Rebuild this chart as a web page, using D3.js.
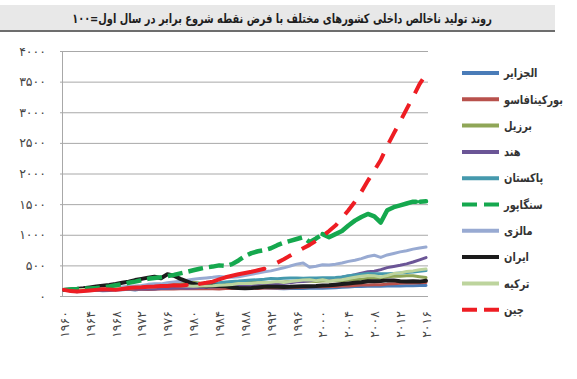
<!DOCTYPE html>
<html><head><meta charset="utf-8">
<script src="https://cdn.jsdelivr.net/npm/d3@7"></script>
<style>
body{margin:0;background:#fff;}
svg{display:block;font-family:"DejaVu Sans",sans-serif;}
</style></head>
<body><svg id="c" width="577" height="379"></svg>
<script>
const title = "روند تولید ناخالص داخلی کشورهای مختلف با فرض نقطه شروع برابر در سال اول=۱۰۰";
const years = [1960,1961,1962,1963,1964,1965,1966,1967,1968,1969,1970,1971,1972,1973,1974,1975,1976,1977,1978,1979,
1980,1981,1982,1983,1984,1985,1986,1987,1988,1989,1990,1991,1992,1993,1994,1995,1996,1997,1998,1999,
2000,2001,2002,2003,2004,2005,2006,2007,2008,2009,2010,2011,2012,2013,2014,2015,2016];
const xTicks = [1960,1964,1968,1972,1976,1980,1984,1988,1992,1996,2000,2004,2008,2012,2016];
const yTicks = [0,500,1000,1500,2000,2500,3000,3500,4000];
const seriesNames = ["الجزایر","بورکینافاسو","برزیل","هند","پاکستان","سنگاپور","مالزی","ایران","ترکیه","چین"];

const algeria = [100,88,70,85,88,92,85,90,98,104,112,98,115,116,120,124,128,131,139,143,
140,138,144,147,150,151,147,141,136,137,133,129,128,123,120,121,123,122,126,127,
128,130,135,143,147,154,155,158,159,160,162,163,165,166,168,170,172];
const burkina = [100,101,104,105,105,107,107,108,108,109,110,109,109,106,112,117,116,113,117,118,
118,121,120,117,113,121,128,124,128,128,124,132,130,130,130,133,139,141,149,153,
149,155,157,165,165,173,178,179,183,183,194,200,208,212,214,216,222];
const brazil = [100,105,108,105,105,104,107,108,115,122,130,140,153,171,178,182,196,199,204,212,
226,212,210,198,204,216,228,230,226,229,217,215,211,219,229,236,237,242,239,237,
245,245,248,248,260,265,273,286,298,294,314,322,324,331,330,315,302];
const india = [100,101,102,105,111,106,104,111,111,117,120,120,116,117,115,123,123,130,135,126,
132,137,139,147,149,154,158,161,173,180,186,183,189,196,205,218,233,238,250,268,
275,284,290,308,325,347,372,398,405,430,463,481,501,525,555,590,627];
const pakistan = [100,103,107,114,119,124,125,129,134,140,152,149,150,157,160,162,166,167,177,180,
190,199,208,214,216,228,236,244,255,260,265,272,286,283,288,295,294,289,292,295,
298,299,302,312,330,344,357,366,363,365,364,369,376,385,393,402,415];
const singapore = [100,107,114,125,122,130,142,157,175,195,215,235,258,280,295,305,325,345,370,395,
420,445,465,480,500,490,520,580,650,700,730,750,780,830,870,900,930,960,880,940,
1010,960,1010,1060,1150,1230,1290,1340,1300,1200,1400,1450,1480,1510,1540,1540,1545];
const malaysia = [100,105,110,115,120,128,133,135,142,148,155,163,172,190,200,198,215,228,240,258,
272,285,295,305,320,310,305,315,335,355,375,395,410,435,460,490,520,540,470,485,
510,505,520,540,565,585,610,645,665,630,670,695,720,740,765,785,800];
const iran = [100,108,115,125,140,155,168,180,195,215,235,260,280,300,315,290,355,330,280,240,
200,170,160,170,165,160,140,130,125,130,140,150,150,150,148,150,155,158,160,162,
170,175,185,195,205,215,225,240,240,245,255,255,240,235,240,235,250];
const turkey = [100,98,101,107,108,108,117,119,123,125,127,138,146,146,149,158,170,171,169,164,
158,162,165,168,175,179,189,204,205,203,218,216,225,238,222,235,248,263,264,251,
264,245,256,266,287,306,323,334,331,311,334,366,376,400,410,430,440];
const china = [100,80,75,82,90,100,110,105,100,115,130,138,142,152,155,165,162,175,170,180,
190,198,215,235,270,305,330,355,375,395,420,445,490,545,600,660,720,780,835,900,
980,1060,1150,1270,1400,1540,1700,1880,2050,2220,2450,2650,2850,3050,3250,3460,3620];

const seriesValues = [algeria,burkina,brazil,india,pakistan,singapore,malaysia,iran,turkey,china];
const colors = ["#4a7cb8","#b8514c","#8fa657","#6b5596","#4599ad","#15a84e","#98aad2","#1b1b1b","#bdd49d","#ee1d23"];
const widths = [3,3,3,3,3,4.5,3,4,3,4];
const dashed = [false,false,false,false,false,true,false,false,false,true];

const svg = d3.select("#c");
const faDigits = s => String(s).replace(/[0-9]/g, d => "۰۱۲۳۴۵۶۷۸۹"[+d]);

// title bar
svg.append("rect").attr("x",0).attr("y",5).attr("width",555).attr("height",25).attr("fill","#e8e8e8");
svg.append("line").attr("x1",0).attr("x2",555).attr("y1",31).attr("y2",31).attr("stroke","#3c3c3c").attr("stroke-width",1.5);
const tt = svg.append("text").attr("text-anchor","middle")
  .attr("font-size",13).attr("font-weight","bold").attr("fill","#1e1e1e").text(title);
const tw = tt.node().getComputedTextLength();
tt.attr("transform",`translate(282,23) scale(${420/tw},1)`);

const x = d3.scaleLinear().domain([1960,2016]).range([64,426]);
const y = d3.scaleLinear().domain([0,4000]).range([296,51]);
const left = 62, right = 428;

const yAxis = svg.append("g").attr("transform",`translate(${left},0)`)
  .call(d3.axisLeft(y).tickValues(yTicks).tickSizeInner(-(right-left)).tickSizeOuter(0).tickPadding(16).tickFormat(faDigits));
yAxis.select(".domain").attr("stroke","#a8a8a8");
yAxis.selectAll(".tick line").attr("stroke","#a8a8a8").attr("x1",-2);
yAxis.selectAll(".tick text").attr("font-size",12.5).attr("fill","#444").attr("font-family","DejaVu Sans");

const xAxis = svg.append("g").attr("transform","translate(0,296)")
  .call(d3.axisBottom(x).tickValues(xTicks).tickSize(0).tickFormat(faDigits));
xAxis.select(".domain").remove();
xAxis.selectAll(".tick text")
  .attr("font-size",12.5).attr("fill","#444").attr("font-family","DejaVu Sans")
  .attr("text-anchor","end").attr("transform","rotate(-90)")
  .attr("x",-15).attr("y",0).attr("dy","0.35em");

const line = d3.line().x(d => x(d[0])).y(d => y(d[1]));
const pts = vals => years.map((yr,i) => [yr, vals[i]]);
const range = (vals, a, b) => pts(vals).filter(d => d[0] >= a && d[0] <= b);

const plot = svg.append("g").attr("fill","none").attr("stroke-linejoin","round");
seriesValues.forEach((vals, i) => {
  if (!dashed[i]) {
    plot.append("path").attr("d", line(pts(vals))).attr("stroke", colors[i]).attr("stroke-width", widths[i]).attr("stroke-linecap","round");
  }
});
// Singapore: dashed to 2000, solid afterwards
const sg = 5;
plot.append("path").attr("d", line(range(singapore,1960,2000))).attr("stroke",colors[sg]).attr("stroke-width",widths[sg]).attr("stroke-dasharray","15,6");
const sgB = plot.append("path").attr("d", line(range(singapore,2000,2016))).attr("stroke",colors[sg]).attr("stroke-width",widths[sg]).attr("stroke-linecap","round");
const sgL = sgB.node().getTotalLength();
sgB.attr("stroke-dasharray", `${sgL-10},4,6`);
// China: long segments then dashes
const cn = 9;
plot.append("path").attr("d", line(range(china,1960,1979))).attr("stroke",colors[cn]).attr("stroke-width",widths[cn]).attr("stroke-linecap","round");
plot.append("path").attr("d", line(range(china,1981,1991))).attr("stroke",colors[cn]).attr("stroke-width",widths[cn]).attr("stroke-linecap","round");
plot.append("path").attr("d", line(range(china,1993,2016))).attr("stroke",colors[cn]).attr("stroke-width",widths[cn]).attr("stroke-dasharray","16,12");

// legend
const lg = svg.append("g");
seriesNames.forEach((nm, i) => {
  const yy = 73 + i * 26.3;
  lg.append("line").attr("x1",462).attr("x2",499).attr("y1",yy).attr("y2",yy)
    .attr("stroke",colors[i]).attr("stroke-width",4)
    .attr("stroke-dasharray", dashed[i] ? "15,7" : null);
  lg.append("text").attr("transform",`translate(504,${yy}) scale(0.82,1)`).attr("dy","0.35em")
    .attr("font-size",12).attr("font-weight","bold").attr("fill","#333").text(nm);
});
</script></body></html>
